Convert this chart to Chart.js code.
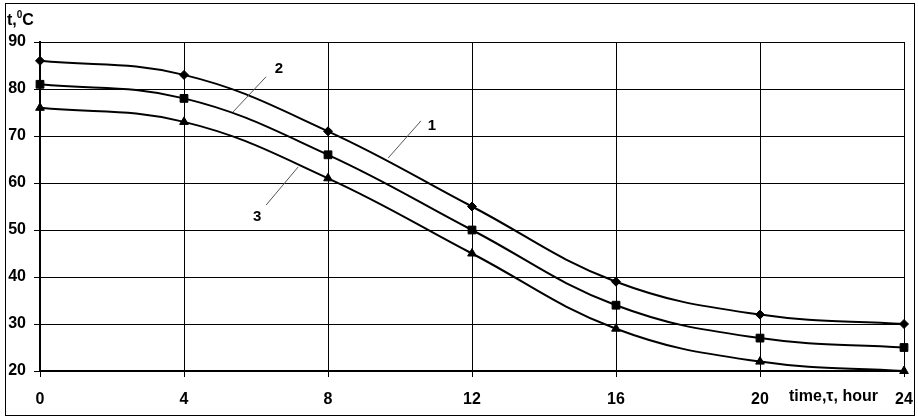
<!DOCTYPE html>
<html>
<head>
<meta charset="utf-8">
<script src="https://cdn.jsdelivr.net/npm/chart.js@4.4.1/dist/chart.umd.min.js"></script>
<style>
  html, body { margin: 0; padding: 0; background: #fff; }
  #wrap { width: 918px; height: 420px; }
</style>
</head>
<body>
<div id="wrap"><canvas id="tempChart" width="918" height="420"></canvas></div>
<script>
// DATA
const hours = [0, 4, 8, 12, 16, 20, 24];
const curve1 = [86, 83, 71, 55, 39, 32, 30];   // diamonds
const curve2 = [81, 78, 66, 50, 34, 27, 25];   // squares
const curve3 = [76, 73, 61, 45, 29, 22, 20];   // triangles
const yTicks = [20, 30, 40, 50, 60, 70, 80, 90];
const xTicks = [0, 4, 8, 12, 16, 20, 24];

// curve labels in data units: [text, labelX, labelY, leaderFromX, leaderFromY, leaderToX, leaderToY]
const curveLabels = [
    ["1", 10.89, 72.1, 10.58, 73.2, 9.67, 65.3],
    ["2", 6.64, 84.3, 6.28, 82.6, 5.36, 75.1],
    ["3", 6.03, 52.8, 7.17, 63.4, 6.28, 55.3]
];

const FONT = '"Liberation Sans", Arial, sans-serif';

function toPoints(vals) {
    return hours.map((h, i) => ({ x: h, y: vals[i] }));
}

function series(label, vals, style, radius) {
    return {
        label: label,
        data: toPoints(vals),
        borderColor: "#000",
        backgroundColor: "#000",
        borderWidth: 2,
        tension: 0.4,
        pointStyle: style,
        pointRadius: radius,
        pointBorderWidth: 1,
        clip: false,
        fill: false
    };
}

// EXTRA DRAWING: frame, titles, curve numbers
const extras = {
    id: "extras",
    afterDraw(chart) {
        const ctx = chart.ctx;
        const xs = chart.scales.x, ys = chart.scales.y;
        ctx.save();

        ctx.strokeStyle = "#000";
        ctx.lineWidth = 1;
        ctx.strokeRect(5.5, 3.5, 909, 412);

        // leader lines + numbers
        ctx.strokeStyle = "#555";
        ctx.lineWidth = 1;
        ctx.fillStyle = "#000";
        ctx.font = "bold 15px " + FONT;
        ctx.textAlign = "center";
        ctx.textBaseline = "middle";
        curveLabels.forEach(c => {
            ctx.beginPath();
            ctx.moveTo(xs.getPixelForValue(c[3]), ys.getPixelForValue(c[4]));
            ctx.lineTo(xs.getPixelForValue(c[5]), ys.getPixelForValue(c[6]));
            ctx.stroke();
            ctx.fillText(c[0], xs.getPixelForValue(c[1]), ys.getPixelForValue(c[2]));
        });

        // y title t,0C
        ctx.textAlign = "left";
        ctx.textBaseline = "alphabetic";
        ctx.font = "bold 16px " + FONT;
        ctx.fillText("t,", 7, 25);
        let w = ctx.measureText("t,").width;
        ctx.font = "bold 10px " + FONT;
        ctx.fillText("0", 7 + w, 18);
        let w2 = ctx.measureText("0").width;
        ctx.font = "bold 16px " + FONT;
        ctx.fillText("C", 7 + w + w2, 25);

        // x title
        ctx.fillText("time,τ, hour", 789, 401);
        ctx.restore();
    }
};

document.addEventListener("DOMContentLoaded", () => {
    const ctx = document.getElementById("tempChart");
    new Chart(ctx, {
        type: "line",
        data: {
            datasets: [
                series("1", curve1, "rectRot", 4.5),
                series("2", curve2, "rect", 5.5),
                series("3", curve3, "triangle", 5)
            ]
        },
        options: {
            responsive: false,
            animation: false,
            layout: { padding: { left: 0, top: 42, right: 14, bottom: 0 } },
            plugins: { legend: { display: false }, tooltip: { enabled: false } },
            scales: {
                x: {
                    type: "linear",
                    min: 0,
                    max: 24,
                    afterFit(s) { s.height = 49; s.paddingLeft = 0; s.paddingRight = 0; },
                    afterBuildTicks(s) { s.ticks = xTicks.map(v => ({ value: v })); },
                    grid: { color: "#000", lineWidth: 1, tickLength: 6 },
                    border: { color: "#000", width: 2 },
                    ticks: { color: "#000", padding: 13, maxRotation: 0, font: { family: FONT, size: 16, weight: "bold" } }
                },
                y: {
                    min: 20,
                    max: 90,
                    afterFit(s) { s.width = 40; s.paddingTop = 0; s.paddingBottom = 0; },
                    afterBuildTicks(s) { s.ticks = yTicks.map(v => ({ value: v })); },
                    grid: { color: "#000", lineWidth: 1, tickLength: 6 },
                    border: { color: "#000", width: 2 },
                    ticks: { color: "#000", padding: 8, font: { family: FONT, size: 16, weight: "bold" } }
                }
            }
        },
        plugins: [extras]
    });
});
</script>
</body>
</html>
